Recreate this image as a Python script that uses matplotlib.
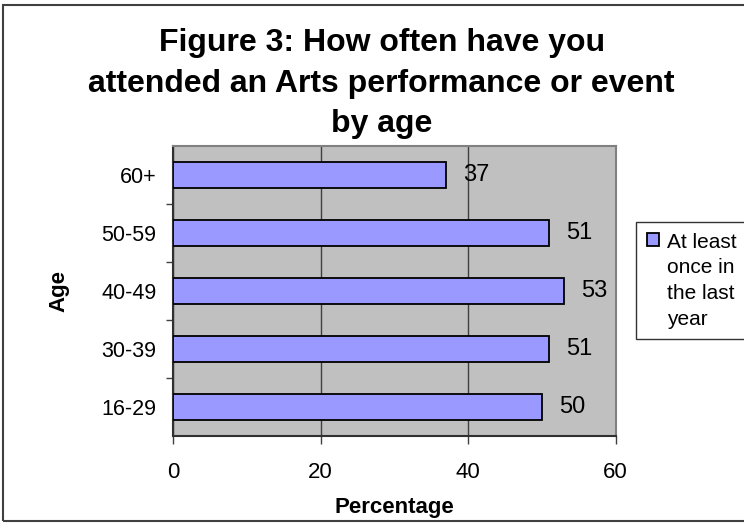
import matplotlib.pyplot as plt
from matplotlib.patches import Rectangle

ages = ["16-29", "30-39", "40-49", "50-59", "60+"]
values = [50, 51, 53, 51, 37]
series_name = "At least\nonce in\nthe last\nyear"
title = "Figure 3: How often have you\nattended an Arts performance or event\nby age"

plt.rcParams["font.family"] = ["Liberation Sans", "DejaVu Sans"]

fig = plt.figure(figsize=(7.44, 5.24), dpi=100)
# outer chart border (right side runs off the image)
fig.patches.append(Rectangle((0.004, 0.005), 1.2, 0.986, transform=fig.transFigure,
                             fill=False, edgecolor="#404040", lw=1.5))

ax = fig.add_axes([0.2325, 0.168, 0.595, 0.5535])
ax.set_facecolor("#C0C0C0")
pos = list(range(len(ages)))
ax.barh(pos, values, height=0.45, color="#9999FF", edgecolor="black",
        linewidth=1.3, label=series_name, zorder=3)
for p, v in zip(pos, values):
    ax.text(v + 2.3, p, str(v), va="center", ha="left", fontsize=17, zorder=4)

ax.set_xlim(0, 60)
ax.set_ylim(-0.5, len(ages) - 0.5)
ax.set_xticks([0, 20, 40, 60])
ax.set_yticks(pos)
ax.set_yticklabels(ages)
ax.set_yticks([p + 0.5 for p in pos[:-1]], minor=True)
ax.tick_params(axis="y", which="major", length=0, pad=12, labelsize=15.5)
ax.tick_params(axis="y", which="minor", length=5, width=1, color="#404040")
ax.tick_params(axis="x", length=6, width=1, color="#404040", pad=13, labelsize=16)
ax.xaxis.grid(True, color="#404040", lw=1, zorder=1)
for s in ["top", "right"]:
    ax.spines[s].set_color("#808080")
    ax.spines[s].set_linewidth(1.5)
for s in ["left", "bottom"]:
    ax.spines[s].set_color("#303030")
    ax.spines[s].set_linewidth(1.5)

ax.set_xlabel("Percentage", fontsize=16, fontweight="bold", labelpad=10)
ax.set_ylabel("Age", fontsize=16, fontweight="bold", labelpad=23)

fig.text(0.513, 0.946, title, ha="center", va="top", fontsize=23, fontweight="bold",
         linespacing=1.45)

leg = ax.legend(loc="upper left", bbox_to_anchor=(0.855, 0.576), bbox_transform=fig.transFigure,
                frameon=True, fancybox=False, edgecolor="black", fontsize=15,
                handlelength=0.6, handleheight=0.6, borderpad=0.5, handletextpad=0.4,
                borderaxespad=0, labelspacing=0)
leg.get_frame().set_linewidth(1)
for text in leg.get_texts():
    text.set_linespacing(1.45)
for col in leg._legend_handle_box.get_children():
    for item in col.get_children():
        item.align = "top"

fig.savefig("out.png", dpi=100)
